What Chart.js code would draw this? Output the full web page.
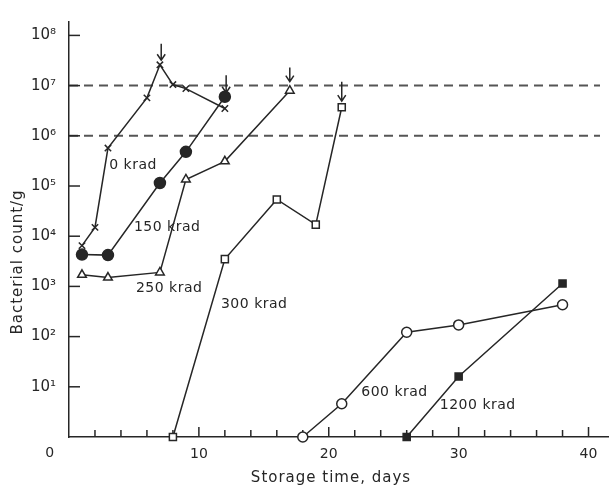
<!DOCTYPE html>
<html>
<head>
<meta charset="utf-8">
<script src="https://cdn.jsdelivr.net/npm/chart.js@4/dist/chart.umd.min.js"></script>
<style>
  html, body { margin: 0; background: #fff; }
  #wrap { width: 615px; height: 491px; }
</style>
</head>
<body>
<div id="wrap"><canvas id="c"></canvas></div>
<script>
// storage time (days) and bacterial count/g per dose
const days0 = [1, 2, 3, 6, 7, 8, 9, 12];
const count0 = [6.5e3, 1.5e4, 5.7e5, 5.7e6, 2.6e7, 1.05e7, 8.7e6, 3.5e6];
const days150 = [1, 3, 7, 9, 12];
const count150 = [4.3e3, 4.2e3, 1.15e5, 4.8e5, 6e6];
const days250 = [1, 3, 7, 9, 12, 17];
const count250 = [1.7e3, 1.5e3, 1.9e3, 1.35e5, 3.1e5, 7.9e6];
const days300 = [8, 12, 16, 19, 21];
const count300 = [1, 3.5e3, 5.4e4, 1.7e4, 3.7e6];
const days600 = [18, 21, 26, 30, 38];
const count600 = [1, 4.6, 122, 171, 430];
const days1200 = [26, 30, 38];
const count1200 = [1, 16, 1140];

const doseLabels = ['0 krad', '150 krad', '250 krad', '300 krad', '600 krad', '1200 krad'];
const decadeTicks = [1, 1e1, 1e2, 1e3, 1e4, 1e5, 1e6, 1e7, 1e8];
const decadeLabels = ['', '10¹', '10²', '10³', '10⁴', '10⁵', '10⁶', '10⁷', '10⁸'];
const xTickLabels = { 10: '10', 20: '20', 30: '30', 40: '40' };
const thresholdLines = [1e6, 1e7];

// spoilage arrows: day, top, bottom
const arrowDays = [7.1, 12.1, 17, 21];
const arrowTop = [6.8e7, 1.6e7, 2.3e7, 1.2e7];
const arrowBottom = [3.2e7, 7.2e6, 1.2e7, 4.9e6];

// curve labels anchored in data space (left edge, vertical centre)
const labelDays = [3.1, 5.0, 5.15, 11.7, 22.5, 28.55];
const labelCounts = [2.6e5, 1.5e4, 900, 430, 7.8, 4.2];

const ink = '#262626';
const font = '"DejaVu Sans", sans-serif';

function pts(xs, ys) {
    return xs.map((x, i) => ({ x: x, y: ys[i] }));
}

function series(label, xs, ys, style, filled, radius) {
    return {
        label: label,
        data: pts(xs, ys),
        borderColor: ink,
        borderWidth: 1.5,
        pointStyle: style,
        pointRadius: radius,
        pointBorderWidth: 1.5,
        pointBorderColor: ink,
        pointBackgroundColor: filled ? ink : '#fff',
        tension: 0,
        fill: false,
        clip: false
    };
}

const decorations = {
    id: 'decorations',
    beforeDatasetsDraw(chart) {
        const { ctx, chartArea, scales } = chart;
        const x = scales.x, y = scales.y;
        ctx.save();
        ctx.strokeStyle = '#555';
        ctx.lineWidth = 2;
        ctx.setLineDash([9, 6]);
        thresholdLines.forEach(v => {
            const py = y.getPixelForValue(v);
            ctx.beginPath();
            ctx.moveTo(chartArea.left, py);
            ctx.lineTo(chartArea.right - 8, py);
            ctx.stroke();
        });
        ctx.setLineDash([]);

        // inward tick marks
        ctx.strokeStyle = ink;
        ctx.lineWidth = 1.5;
        for (let d = 2; d <= 40; d += 2) {
            const px = x.getPixelForValue(d);
            const len = d % 10 === 0 ? 10 : 7;
            ctx.beginPath();
            ctx.moveTo(px, chartArea.bottom);
            ctx.lineTo(px, chartArea.bottom - len);
            ctx.stroke();
        }
        decadeTicks.slice(1).forEach(v => {
            const py = y.getPixelForValue(v);
            ctx.beginPath();
            ctx.moveTo(chartArea.left, py);
            ctx.lineTo(chartArea.left + 11, py);
            ctx.stroke();
        });

        // arrows
        arrowDays.forEach((d, i) => {
            const px = x.getPixelForValue(d);
            const t = y.getPixelForValue(arrowTop[i]);
            const b = y.getPixelForValue(arrowBottom[i]);
            ctx.beginPath();
            ctx.moveTo(px, t);
            ctx.lineTo(px, b);
            ctx.moveTo(px - 4, b - 6);
            ctx.lineTo(px, b);
            ctx.lineTo(px + 4, b - 6);
            ctx.stroke();
        });
        ctx.restore();
    },
    afterDraw(chart) {
        const { ctx, scales } = chart;
        const x = scales.x, y = scales.y;
        ctx.save();
        ctx.fillStyle = ink;
        ctx.letterSpacing = '0.5px';
        ctx.font = '14px ' + font;
        ctx.textAlign = 'left';
        ctx.textBaseline = 'middle';
        doseLabels.forEach((t, i) => {
            ctx.fillText(t, x.getPixelForValue(labelDays[i]), y.getPixelForValue(labelCounts[i]));
        });

        // origin label
        ctx.textAlign = 'center';
        ctx.fillText('0', 50, 453);

        // axis titles
        ctx.letterSpacing = '1px';
        ctx.font = '15px ' + font;
        ctx.fillText('Storage time, days', 331, 478);
        ctx.translate(18, 262);
        ctx.rotate(-Math.PI / 2);
        ctx.fillText('Bacterial count/g', 0, 0);
        ctx.restore();
    }
};

new Chart(document.getElementById('c'), {
    type: 'line',
    data: {
        datasets: [
            series(doseLabels[0], days0, count0, 'crossRot', false, 4.5),
            series(doseLabels[1], days150, count150, 'circle', true, 5.5),
            series(doseLabels[2], days250, count250, 'triangle', false, 5),
            series(doseLabels[3], days300, count300, 'rect', false, 5),
            series(doseLabels[4], days600, count600, 'circle', false, 5),
            series(doseLabels[5], days1200, count1200, 'rect', true, 5)
        ]
    },
    options: {
        responsive: true,
        maintainAspectRatio: false,
        animation: false,
        layout: { padding: { top: 10, right: 4, left: 0, bottom: 0 } },
        plugins: {
            legend: { display: false },
            tooltip: { enabled: false }
        },
        scales: {
            x: {
                type: 'linear',
                min: 0,
                max: 41.5,
                grid: { display: false, drawTicks: false },
                border: { display: true, color: ink, width: 1.5 },
                afterBuildTicks(scale) {
                    scale.ticks = [10, 20, 30, 40].map(v => ({ value: v }));
                },
                afterFit(scale) { scale.height = 54; },
                ticks: {
                    autoSkip: false,
                    maxRotation: 0,
                    padding: 9,
                    color: ink,
                    font: { family: font, size: 14 },
                    callback: v => xTickLabels[v] || ''
                }
            },
            y: {
                type: 'logarithmic',
                min: 1,
                max: 1.85e8,
                grid: { display: false, drawTicks: false },
                border: { display: true, color: ink, width: 1.5 },
                afterBuildTicks(scale) {
                    scale.ticks = decadeTicks.map(v => ({ value: v }));
                },
                afterFit(scale) { scale.width = 69; },
                ticks: {
                    autoSkip: false,
                    padding: 13,
                    color: ink,
                    font: { family: font, size: 15 },
                    callback: v => decadeLabels[decadeTicks.indexOf(v)] || ''
                }
            }
        }
    },
    plugins: [decorations]
});
</script>
</body>
</html>
